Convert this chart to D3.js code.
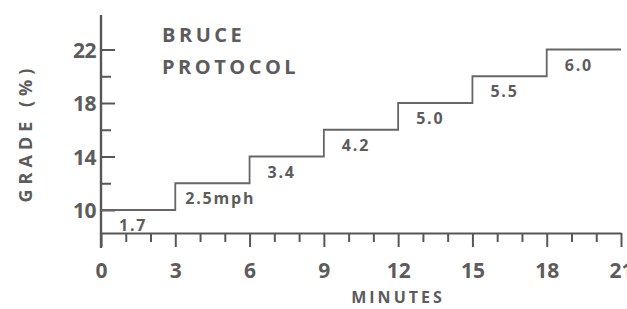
<!DOCTYPE html>
<html>
<head>
<meta charset="utf-8">
<script src="https://cdn.jsdelivr.net/npm/d3@7"></script>
<style>
  html, body { margin: 0; padding: 0; background: #fff; overflow: hidden; }
  svg { display: block; }
  text { font-family: "Open Sans", "DejaVu Sans", sans-serif; font-weight: 700; fill: #5c5c5c; }
</style>
</head>
<body>
<svg id="chart" width="627" height="309"></svg>
<script>
// Bruce protocol stages
var stageStart = [0, 3, 6, 9, 12, 15, 18];
var stageGrade = [10, 12, 14, 16, 18, 20, 22];
var stageSpeed = ['1.7', '2.5mph', '3.4', '4.2', '5.0', '5.5', '6.0'];
var endMinute = 21;

var minuteTicks = d3.range(0, 22);
var gradeTicks = [10, 12, 14, 16, 18, 20, 22];
var gradeLabels = [10, 14, 18, 22];

var svg = d3.select('#chart');
var ink = '#575757';

var x = d3.scaleLinear().domain([0, 21]).range([101, 621]);
var y = d3.scaleLinear().domain([10, 22]).range([210, 49.5]);
var axisY = 233;

/////////////
// X axis  //
/////////////
var xAxis = d3.axisBottom(x)
  .tickValues(minuteTicks)
  .tickSize(14)
  .tickSizeOuter(0)
  .tickFormat(function(d) { return d % 3 === 0 ? d : ''; });

var gx = svg.append('g')
  .attr('transform', 'translate(0,' + axisY + ')')
  .call(xAxis);
gx.select('.domain').attr('stroke', ink).attr('stroke-width', 2.2);
gx.selectAll('.tick line')
  .attr('stroke', ink)
  .attr('stroke-width', 2)
  .attr('y2', function(d) { return d % 3 === 0 ? 14 : 9; });
gx.selectAll('.tick text')
  .attr('y', 45)
  .attr('dy', 0)
  .style('font-size', '21px')
  .style('font-family', '"Open Sans", sans-serif')
  .style('font-weight', 700)
  .attr('fill', '#5c5c5c');

/////////////
// Y axis  //
/////////////
var yAxis = d3.axisLeft(y)
  .tickValues(gradeTicks)
  .tickSize(-14)
  .tickSizeOuter(0)
  .tickPadding(5)
  .tickFormat(function(d) { return gradeLabels.indexOf(d) >= 0 ? d : ''; });

var gy = svg.append('g')
  .attr('transform', 'translate(' + x(0) + ',0)')
  .call(yAxis);
gy.select('.domain').remove();
gy.selectAll('.tick line')
  .attr('stroke', ink)
  .attr('stroke-width', 2)
  .attr('x2', function(d) { return gradeLabels.indexOf(d) >= 0 ? 14 : 10; });
gy.selectAll('.tick text')
  .attr('dy', '0.36em')
  .style('font-size', '21px')
  .style('font-family', '"Open Sans", sans-serif')
  .style('font-weight', 700)
  .style('letter-spacing', '-0.5px')
  .attr('fill', '#5c5c5c');

// vertical axis line, running a little past the x axis
svg.append('line')
  .attr('x1', x(0)).attr('x2', x(0))
  .attr('y1', 15).attr('y2', axisY + 15)
  .attr('stroke', ink).attr('stroke-width', 2.4);

/////////////
// Steps   //
/////////////
var pts = stageStart.map(function(s, i) { return [s, stageGrade[i]]; });
pts.push([endMinute, stageGrade[stageGrade.length - 1]]);

var stepLine = d3.line()
  .x(function(d) { return x(d[0]); })
  .y(function(d) { return y(d[1]); })
  .curve(d3.curveStepAfter);

svg.append('path')
  .attr('d', stepLine(pts))
  .attr('fill', 'none')
  .attr('stroke', '#666')
  .attr('stroke-width', 1.8);

svg.selectAll('.speed')
  .data(stageStart)
  .enter()
  .append('text')
  .attr('class', 'speed')
  .attr('x', function(d, i) { return x(d) + (i === 1 ? 10 : 18); })
  .attr('y', function(d, i) { return y(stageGrade[i]) + 21; })
  .style('font-size', '16px')
  .style('letter-spacing', '1.8px')
  .text(function(d, i) { return stageSpeed[i]; });

/////////////
// Labels  //
/////////////
svg.append('text')
  .attr('x', 162).attr('y', 42)
  .style('font-size', '20px')
  .style('letter-spacing', '3.5px')
  .text('BRUCE');
svg.append('text')
  .attr('x', 162).attr('y', 74)
  .style('font-size', '20px')
  .style('letter-spacing', '3.5px')
  .text('PROTOCOL');

svg.append('text')
  .attr('x', 398).attr('y', 303)
  .attr('text-anchor', 'middle')
  .style('font-size', '16px')
  .style('letter-spacing', '3px')
  .text('MINUTES');

svg.append('text')
  .attr('transform', 'translate(32,133) rotate(-90)')
  .attr('text-anchor', 'middle')
  .style('font-size', '18px')
  .style('letter-spacing', '5px')
  .text('GRADE (%)');
</script>
</body>
</html>
